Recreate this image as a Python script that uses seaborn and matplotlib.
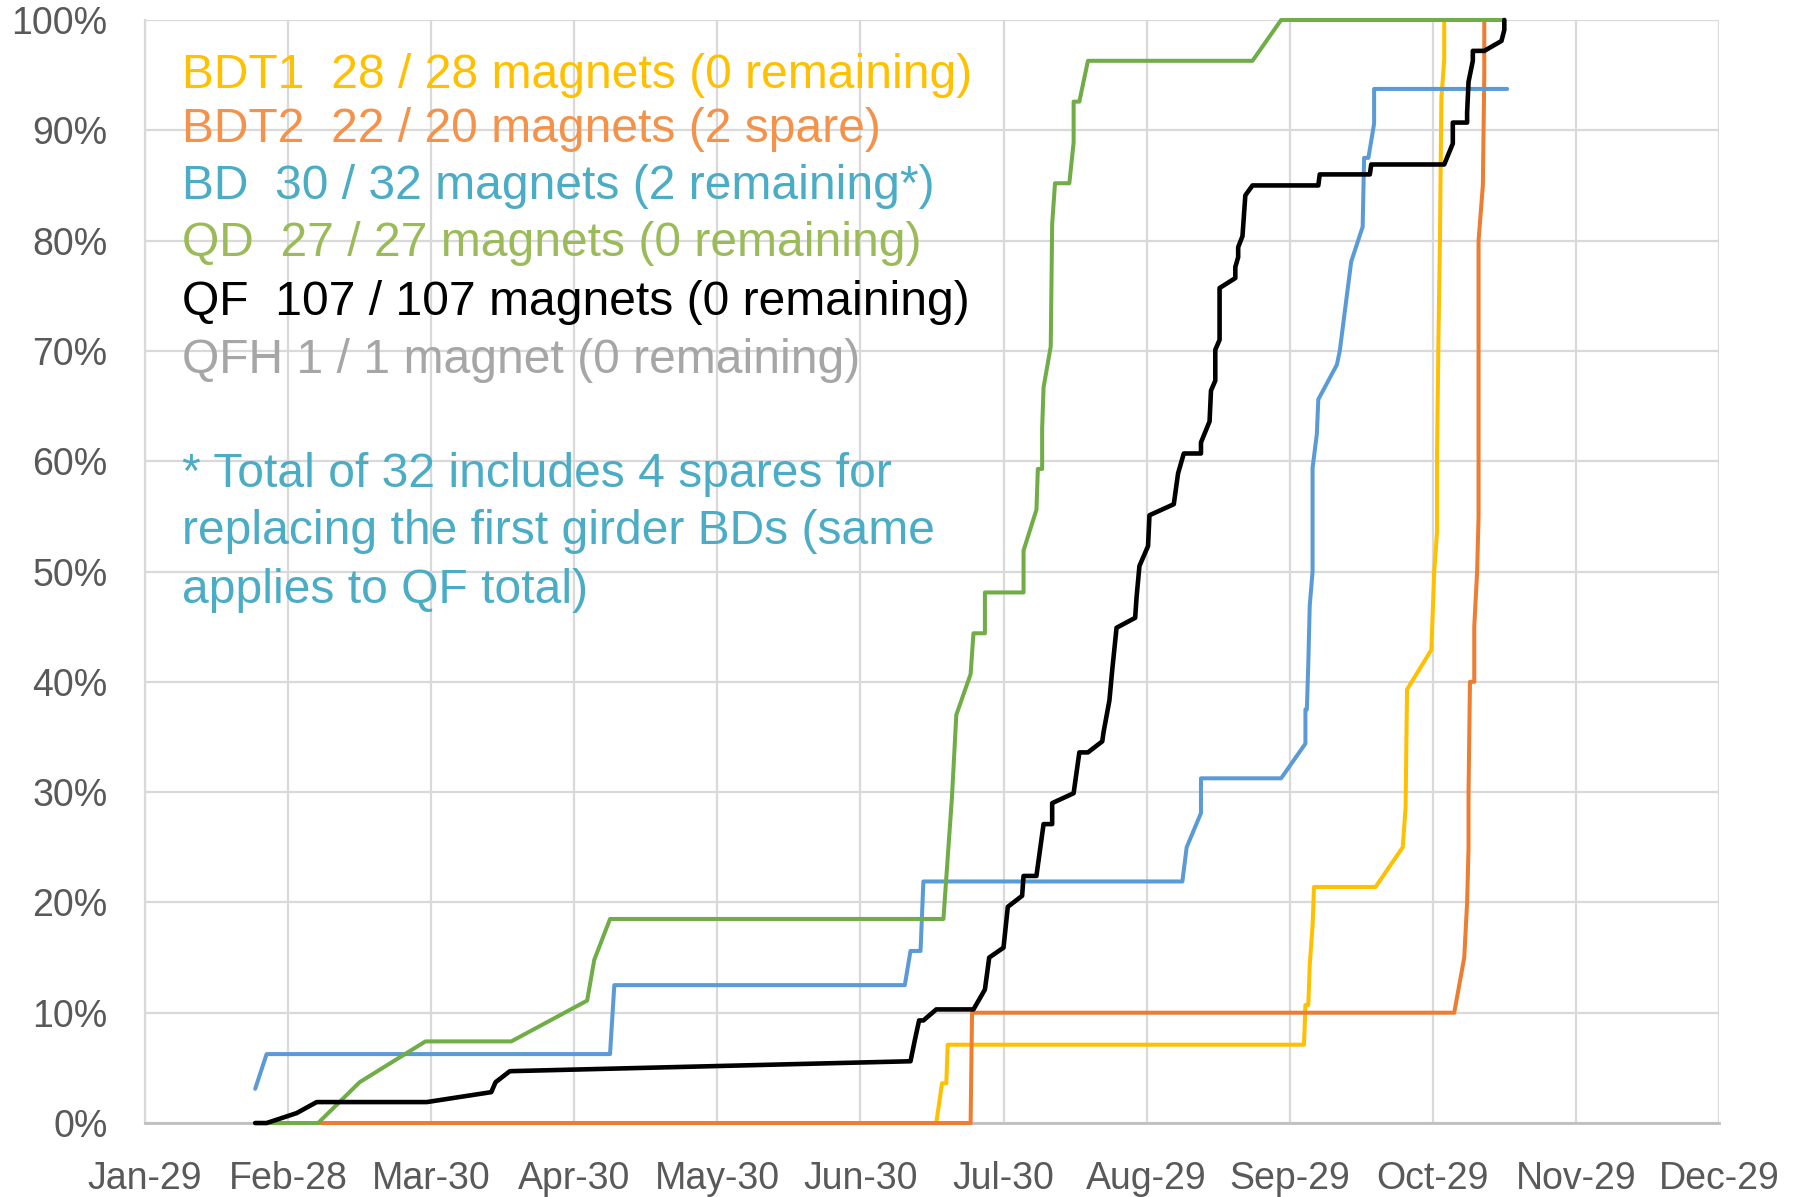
import numpy as np
import pandas as pd
from matplotlib import pyplot as plt
from matplotlib.ticker import PercentFormatter
import seaborn as sns

# x positions are in "tick units": 0 = Jan-29, 1 = Feb-28, ... 11 = Dec-29
month_labels = ['Jan-29', 'Feb-28', 'Mar-30', 'Apr-30', 'May-30', 'Jun-30',
                'Jul-30', 'Aug-29', 'Sep-29', 'Oct-29', 'Nov-29', 'Dec-29']

# BDT1 (28 magnets)
bdt1_x = [0.77, 5.53, 5.57, 5.60, 5.61, 8.10, 8.11, 8.13, 8.14, 8.16, 8.17, 8.60,
          8.79, 8.81, 8.82, 8.99, 9.01, 9.03, 9.03, 9.04, 9.05, 9.06, 9.08, 9.08, 9.50]
bdt1_y = [0, 0, 3.6, 3.6, 7.1, 7.1, 10.7, 10.7, 14.3, 17.9, 21.4, 21.4,
          25.0, 28.6, 39.3, 42.9, 50.0, 53.6, 60.7, 71.4, 80.0, 92.9, 96.4, 100, 100]

# BDT2 (22 / 20 magnets, shown up to the 100% line)
bdt2_x = [0.77, 5.77, 5.78, 9.15, 9.22, 9.24, 9.25, 9.25, 9.26, 9.29, 9.29,
          9.31, 9.32, 9.32, 9.35, 9.36, 9.36]
bdt2_y = [0, 0, 10, 10, 15, 20, 25, 30, 40, 40, 45,
          50, 55, 80, 85, 95, 100]

# BD (30 / 32 magnets)
bd_x = [0.77, 0.85, 3.25, 3.28, 5.31, 5.35, 5.42, 5.44, 7.25, 7.28, 7.38, 7.38,
        7.94, 8.11, 8.11, 8.12, 8.13, 8.14, 8.16, 8.16, 8.19, 8.20, 8.33, 8.35,
        8.43, 8.51, 8.52, 8.55, 8.59, 8.59, 9.52]
bd_y = [3.1, 6.25, 6.25, 12.5, 12.5, 15.6, 15.6, 21.9, 21.9, 25.0, 28.1, 31.25,
        31.25, 34.4, 37.5, 37.5, 41.6, 46.9, 50.0, 59.4, 62.5, 65.6, 68.75, 70.0,
        78.1, 81.25, 87.5, 87.5, 90.6, 93.75, 93.75]

# QD (27 magnets)
qd_x = [0.85, 1.21, 1.50, 1.96, 2.56, 3.09, 3.14, 3.25, 5.58, 5.64, 5.67, 5.77,
        5.79, 5.87, 5.87, 6.14, 6.14, 6.23, 6.24, 6.27, 6.27, 6.28, 6.33, 6.34,
        6.36, 6.46, 6.49, 6.49, 6.53, 6.59, 7.74, 7.94, 9.50]
qd_y = [0, 0, 3.7, 7.4, 7.4, 11.1, 14.8, 18.5, 18.5, 29.6, 37.0, 40.7,
        44.4, 44.4, 48.1, 48.1, 51.9, 55.6, 59.3, 59.3, 63.0, 66.7, 70.4, 81.5,
        85.2, 85.2, 88.9, 92.6, 92.6, 96.3, 96.3, 100, 100]

# QF (107 magnets)
qf_x = [0.77, 0.85, 1.06, 1.20, 1.97, 2.42, 2.45, 2.55, 5.35, 5.38, 5.41, 5.44,
        5.53, 5.79, 5.87, 5.90, 6.00, 6.03, 6.13, 6.14, 6.23, 6.28, 6.34, 6.34,
        6.49, 6.53, 6.59, 6.69, 6.70, 6.74, 6.76, 6.79, 6.92, 6.93, 6.95, 7.01,
        7.02, 7.19, 7.22, 7.26, 7.38, 7.38, 7.44, 7.45, 7.48, 7.48, 7.51, 7.51,
        7.62, 7.62, 7.64, 7.64, 7.67, 7.69, 7.74, 8.20, 8.21, 8.56, 8.57, 9.08,
        9.14, 9.14, 9.24, 9.24, 9.25, 9.28, 9.28, 9.36, 9.48, 9.50, 9.50]
qf_y = [0, 0, 0.9, 1.9, 1.9, 2.8, 3.7, 4.7, 5.6, 7.5, 9.3, 9.3,
        10.3, 10.3, 12.1, 15.0, 15.9, 19.6, 20.6, 22.4, 22.4, 27.1, 27.1, 29.0,
        29.9, 33.6, 33.6, 34.6, 35.5, 38.3, 41.1, 44.9, 45.8, 47.7, 50.5, 52.3,
        55.1, 56.1, 58.9, 60.7, 60.7, 61.7, 63.6, 66.4, 67.3, 70.1, 71.0, 75.7,
        76.6, 77.6, 78.5, 79.4, 80.4, 84.1, 85.0, 85.0, 86.0, 86.0, 86.9, 86.9,
        88.8, 90.7, 90.7, 91.6, 94.4, 96.3, 97.2, 97.2, 98.1, 99.1, 100]

legend_lines = ['BDT1  28 / 28 magnets (0 remaining)',
                'BDT2  22 / 20 magnets (2 spare)',
                'BD  30 / 32 magnets (2 remaining*)',
                'QD  27 / 27 magnets (0 remaining)',
                'QF  107 / 107 magnets (0 remaining)',
                'QFH 1 / 1 magnet (0 remaining)']
legend_colors = ['#FFC000', '#F4924A', '#4BACC6', '#9BBB59', '#000000', '#A6A6A6']
note_lines = ['* Total of 32 includes 4 spares for',
              'replacing the first girder BDs (same',
              'applies to QF total)']

sns.set_style("whitegrid", {'grid.color': '#D9D9D9'})
plt.rcParams['font.family'] = ['Liberation Sans', 'DejaVu Sans']

fig = plt.figure(figsize=(17.99, 11.97), dpi=100)
ax = fig.add_axes([0.0806, 0.0618, 0.8749, 0.9215])

series = [(bdt1_x, bdt1_y, '#FFC000'),
          (bdt2_x, bdt2_y, '#ED7D31'),
          (bd_x, bd_y, '#5B9BD5'),
          (qd_x, qd_y, '#70AD47'),
          (qf_x, qf_y, '#000000')]
for xs, ys, col in series:
    df = pd.DataFrame({'x': xs, 'y': ys})
    lw = 3.3 if col == '#000000' else 2.9
    sns.lineplot(data=df, x='x', y='y', sort=False, estimator=None,
                 color=col, lw=lw, ax=ax, clip_on=False, zorder=3)

ax.set_xlim(0, 11)
ax.set_ylim(0, 100)
ax.set_xticks(np.arange(len(month_labels)))
ax.set_xticklabels(month_labels)
ax.set_yticks(np.arange(0, 101, 10))
ax.yaxis.set_major_formatter(PercentFormatter(decimals=0))
ax.set_xlabel('')
ax.set_ylabel('')
ax.tick_params(axis='both', labelsize=27, colors='#595959', length=0)
ax.tick_params(axis='y', pad=27)
ax.tick_params(axis='x', pad=27)
ax.grid(True, color='#D9D9D9', lw=1.6)
for side in ['top', 'right']:
    ax.spines[side].set_visible(False)
ax.spines['left'].set_color('#D9D9D9')
ax.spines['left'].set_linewidth(1.6)
ax.spines['bottom'].set_color('#BFBFBF')
ax.spines['bottom'].set_linewidth(2)

# text block in the upper left
legend_y = [95.0, 90.1, 84.9, 79.7, 74.4, 69.1]
for txt, col, yy in zip(legend_lines, legend_colors, legend_y):
    ax.text(0.26, yy, txt, color=col, fontsize=34.6, va='center', ha='left')
note_y = [58.8, 53.6, 48.3]
for txt, yy in zip(note_lines, note_y):
    ax.text(0.26, yy, txt, color='#4BACC6', fontsize=34.6, va='center', ha='left')

plt.savefig('out.png', dpi=100)
